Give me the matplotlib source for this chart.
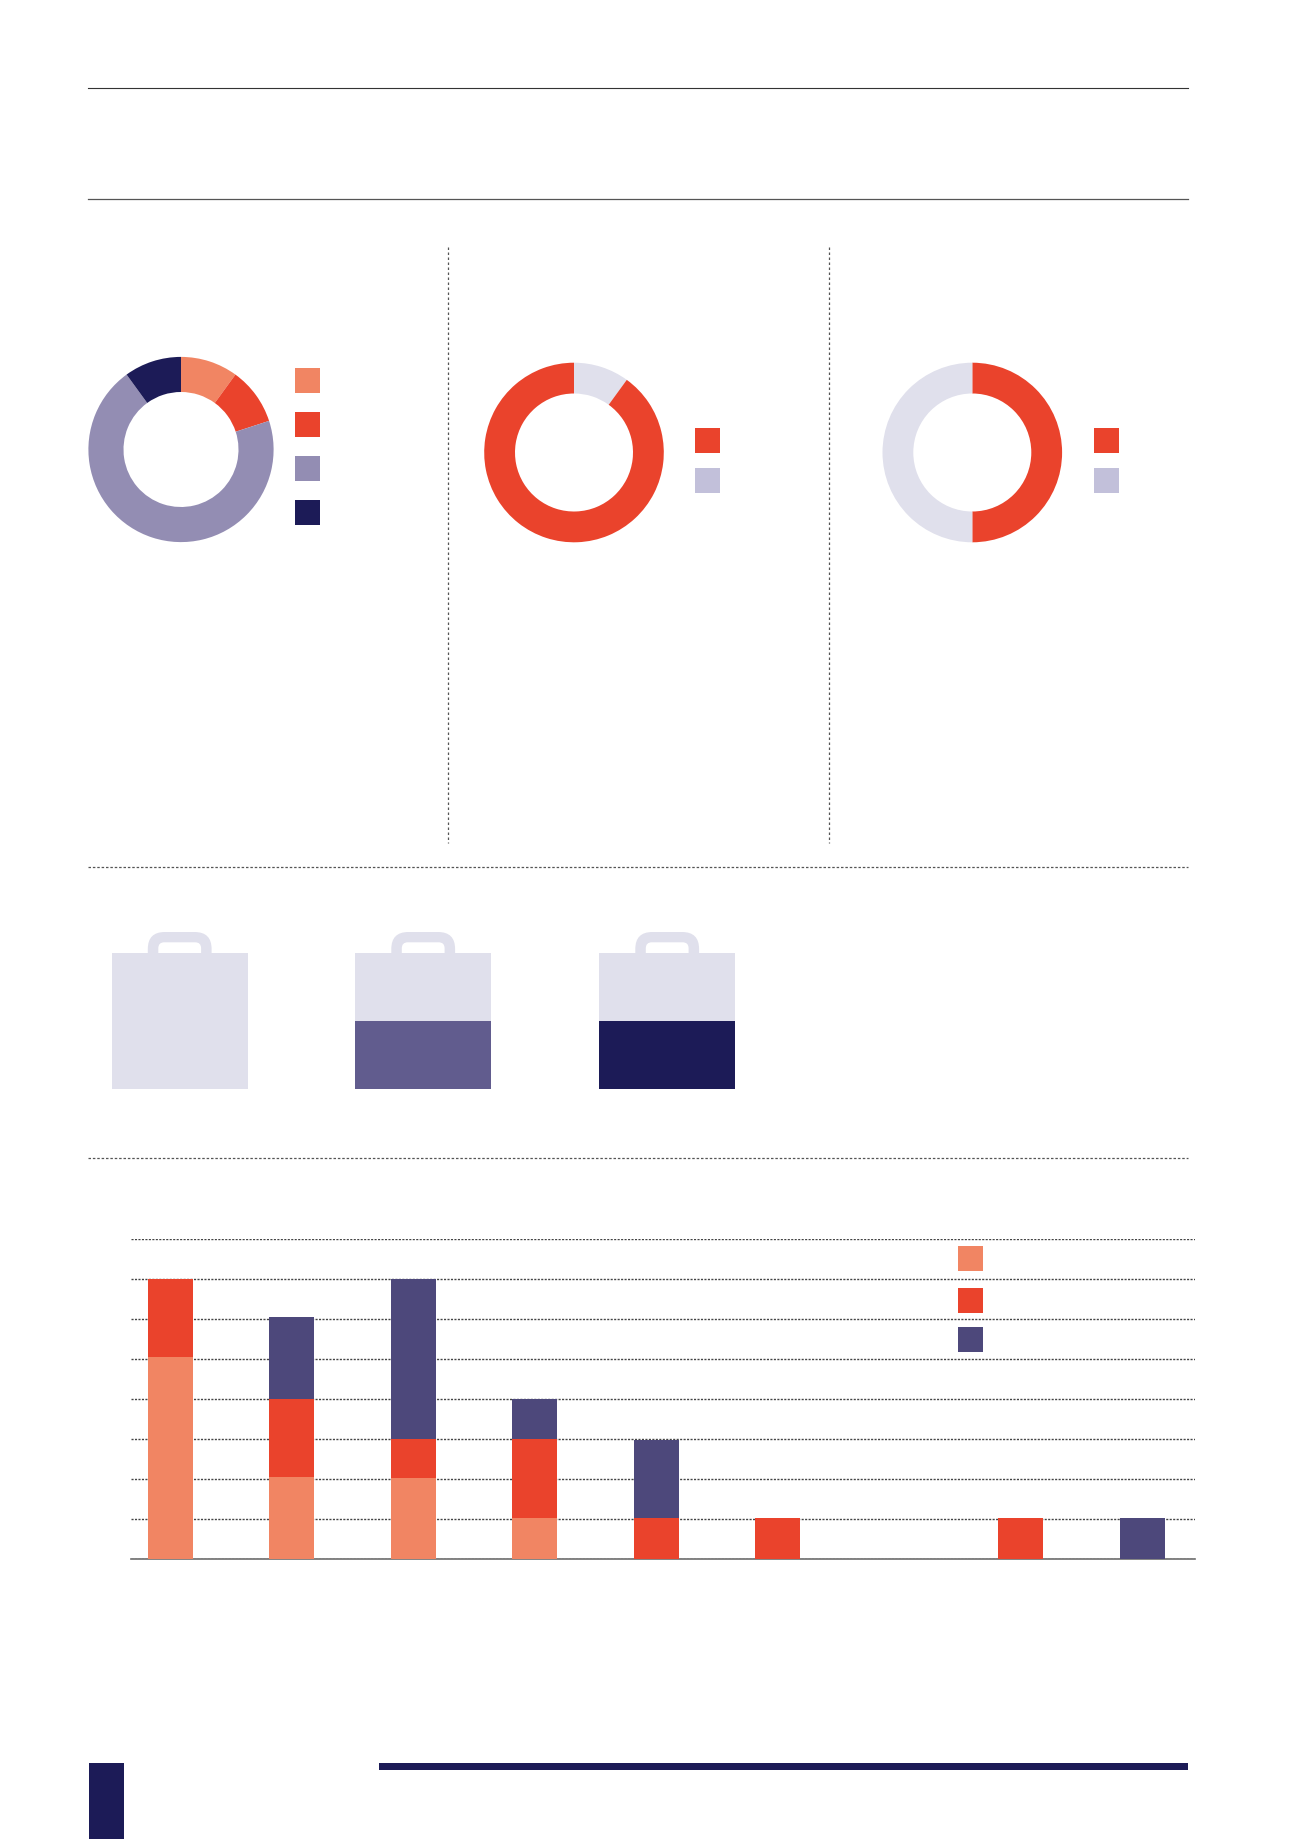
"""Survey page: three donuts, three bag icons and a stacked bar chart (no text in the source)."""
import numpy as np
import matplotlib
matplotlib.use("Agg")
import matplotlib.pyplot as plt
from matplotlib.patches import Rectangle, FancyBboxPatch

W, H = 1300, 1839

PEACH = "#F18563"
RED = "#EA432C"
LILAC = "#938DB3"
NAVY = "#1C1B57"
PALE = "#E0E0EC"
PALE_KEY = "#C2C0DA"
MID = "#615C8E"
BAR_NAVY = "#4D487B"

# donuts, clockwise from 12 o'clock
donut1 = [10, 10, 70, 10]
donut2 = [10, 90]
donut3 = [50, 50]

# bag icons: filled share of each bag
bag_fill = [0.0, 0.5, 0.5]
bag_color = [PALE, MID, NAVY]

# stacked bars
bar_peach = [5.05, 2.05, 2.03, 1.02, 0, 0, 0, 0, 0]
bar_red = [1.95, 1.95, 0.97, 1.98, 1.02, 1.02, 0, 1.02, 0]
bar_navy = [0, 2.05, 4, 1, 1.95, 0, 0, 0, 1.02]
bar_ticks = [0, 1, 2, 3, 4, 5, 6, 7, 8]


def px_axes(fig, x0, y0, x1, y1):
    # axes from pixel box, y counted from the top of the page
    return fig.add_axes([x0 / W, 1 - y1 / H, (x1 - x0) / W, (y1 - y0) / H])


def donut(fig, cx, cy, r, r_in, vals, colors):
    ax = px_axes(fig, cx - r, cy - r, cx + r, cy + r)
    ax.pie(vals, colors=colors, startangle=90, counterclock=False, radius=1,
           wedgeprops=dict(width=1 - r_in / r, linewidth=0))
    ax.set_xlim(-1, 1); ax.set_ylim(-1, 1)
    ax.axis("off")


def keys(page, x, ys, colors):
    for y, c in zip(ys, colors):
        page.add_patch(Rectangle((x, y), 25, 25, color=c, lw=0))


fig = plt.figure(figsize=(W / 100, H / 100), dpi=100, facecolor="white")

# page layer in pixel coordinates: rules, keys, handles
page = fig.add_axes([0, 0, 1, 1])
page.set_xlim(0, W); page.set_ylim(H, 0)
page.axis("off")

page.plot([88, 1188], [88.3, 88.3], color="#333333", lw=0.8)
page.plot([88, 1188], [198.6, 198.6], color="#555555", lw=0.9)
for x in (447.5, 829):
    page.plot([x, x], [247, 843], color="#555555", lw=0.9, ls=(0, (2, 2)))
for y in (866.5, 1157.5):
    page.plot([88, 1188], [y, y], color="#555555", lw=0.9, ls=(0, (2, 1.5)))

keys(page, 295, [368, 412, 456, 499.5], [PEACH, RED, LILAC, NAVY])
keys(page, 695, [427.5, 468], [RED, PALE_KEY])
keys(page, 1093.5, [427.5, 468], [RED, PALE_KEY])
keys(page, 958, [1246, 1287.5, 1327], [PEACH, RED, BAR_NAVY])

# footer
page.add_patch(Rectangle((88.7, 1763), 35, 76, color=NAVY, lw=0))
page.add_patch(Rectangle((379, 1763), 809, 7, color=NAVY, lw=0))

# donuts
donut(fig, 181, 449.5, 92.6, 57.5, donut1, [PEACH, RED, LILAC, NAVY])
donut(fig, 574, 452.5, 89.8, 59, donut2, [PALE, RED])
donut(fig, 972.3, 452.5, 89.8, 59, donut3, [RED, PALE])

# bags
for x0, share, col in zip([111.5, 355, 599], bag_fill, bag_color):
    hx = x0 + 36.3
    page.add_patch(FancyBboxPatch((hx + 10, 942), 43.8, 30, boxstyle="round,pad=10,rounding_size=17",
                                  fc=PALE, ec="none", zorder=1))
    page.add_patch(FancyBboxPatch((hx + 10.5 + 3, 945.3), 36.8, 20, boxstyle="round,pad=3,rounding_size=6",
                                  fc="white", ec="none", zorder=2))
    ax = px_axes(fig, x0, 952.7, x0 + 136.3, 1089)
    ax.bar([0], [1], width=1, color=PALE, lw=0)
    ax.bar([0], [share], width=1, color=col, lw=0)
    ax.set_xlim(-0.5, 0.5); ax.set_ylim(0, 1)
    ax.axis("off")

# stacked bars
ax = px_axes(fig, 131, 1238.8, 1195, 1558.7)
ax.patch.set_alpha(0)
x = np.arange(len(bar_red))
peach = np.array(bar_peach)
red = np.array(bar_red)
navy = np.array(bar_navy)
ax.bar(x, peach, width=0.37, color=PEACH, lw=0, zorder=3)
ax.bar(x, red, width=0.37, bottom=peach, color=RED, lw=0, zorder=3)
ax.bar(x, navy, width=0.37, bottom=peach + red, color=BAR_NAVY, lw=0, zorder=3)
ax.set_xlim(-0.325, 8.436); ax.set_ylim(0, 8)
ax.set_yticks(bar_ticks)
ax.set_xticks([])
ax.tick_params(left=False, labelleft=False)
ax.grid(True, axis="y", color="#444444", lw=1.0, ls=(0, (1.5, 1)), zorder=1)
for s in ("top", "left", "right"):
    ax.spines[s].set_visible(False)
ax.spines["bottom"].set_color("#6e6e6e")
ax.spines["bottom"].set_linewidth(1.2)

fig.savefig("out.png", dpi=100, facecolor="white")
